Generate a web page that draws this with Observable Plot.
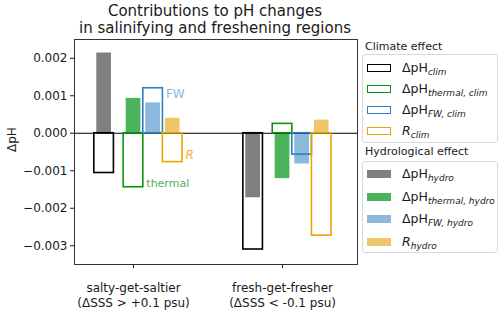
<!DOCTYPE html>
<html><head><meta charset="utf-8">
<script src="https://cdn.jsdelivr.net/npm/d3@7"></script>
<script src="https://cdn.jsdelivr.net/npm/@observablehq/plot@0.6"></script>
<style>
body{margin:0;background:#fff;font-family:"DejaVu Sans",sans-serif;color:#1a1a1a;}
#wrap{position:relative;width:500px;height:315px;overflow:hidden;background:#fff;}
#wrap svg{position:absolute;left:0;top:0;}
.title{position:absolute;left:65px;width:300px;top:3px;text-align:center;font-size:15px;line-height:17px;white-space:nowrap;}
.lg-title{position:absolute;font-size:11px;line-height:13px;white-space:nowrap;}
.lg-box{position:absolute;border:1px solid #d9d9d9;border-radius:3px;background:#fff;box-sizing:border-box;}
.lg-row{position:absolute;left:0;height:0;}
.sw{position:absolute;left:4px;width:24px;height:8px;top:-4px;box-sizing:border-box;}
.lt{position:absolute;left:39px;top:-8px;font-size:12.5px;line-height:15px;white-space:nowrap;}
.lt sub{font-size:9px;font-style:italic;vertical-align:-3px;line-height:0;}
</style></head><body><div id="wrap"></div>
<script>
// ---- data ----
const categories = ["salty-get-saltier\n(ΔSSS > +0.1 psu)", "fresh-get-fresher\n(ΔSSS < -0.1 psu)"];
const components = ["total", "thermal", "FW", "R"];
// climate effect (open bars)
const climTotal   = [-0.00106, -0.00310];
const climThermal = [-0.00144,  0.00025];
const climFW      = [ 0.00120, -0.00057];
const climR       = [-0.00077, -0.00273];
// hydrological effect (filled bars)
const hydroTotal   = [ 0.00214, -0.00172];
const hydroThermal = [ 0.00093, -0.00121];
const hydroFW      = [ 0.00081, -0.00082];
const hydroR       = [ 0.00040,  0.00035];
const yTicks = [-0.003, -0.002, -0.001, 0, 0.001, 0.002];
const climLabels  = ["clim", "thermal, clim", "FW, clim", "clim"];
const hydroLabels = ["hydro", "thermal, hydro", "FW, hydro", "hydro"];
const annotations = [
  {comp: "FW", text: "FW", cat: 0, value: 0.00103},
  {comp: "R", text: "R", cat: 0, value: -0.00058},
  {comp: "thermal", text: "thermal", cat: 0, value: -0.00133}
];

// ---- styles ----
const climValues  = {total: climTotal, thermal: climThermal, FW: climFW, R: climR};
const hydroValues = {total: hydroTotal, thermal: hydroThermal, FW: hydroFW, R: hydroR};
const strokeCol = {total: "#000000", thermal: "#0a960a", FW: "#2f7fc1", R: "#eaa500"};
const fillCol   = {total: "#808080", thermal: "#4bb35a", FW: "#8bb8dc", R: "#efc66a"};
const annoCol   = {FW: "#8bb8dc", R: "#efb32a", thermal: "#4bb35a"};
const slotOffset = {total: -1.5, thermal: 0, FW: 1, R: 2};
const slotW = 0.1315;

const marks = [];
const rows = (vals) => vals.map((v, i) => ({cat: i, value: v}));
// filled (hydro) bars first
for (const c of components) {
  const o = slotOffset[c] * slotW, hw = 0.75 * slotW / 2;
  marks.push(Plot.rect(rows(hydroValues[c]), {
    x1: d => d.cat + o - hw, x2: d => d.cat + o + hw, y1: 0, y2: "value",
    fill: fillCol[c]
  }));
}
marks.push(Plot.ruleY([0], {stroke: "#000", strokeWidth: 1}));
for (const c of components) {
  const o = slotOffset[c] * slotW, hw = slotW / 2;
  marks.push(Plot.rect(rows(climValues[c]), {
    x1: d => d.cat + o - hw, x2: d => d.cat + o + hw, y1: 0, y2: "value",
    fill: "none", stroke: strokeCol[c], strokeWidth: 1.6
  }));
}
for (const a of annotations) {
  marks.push(Plot.text([a], {
    x: d => d.cat + (slotOffset[d.comp] + 0.5) * slotW, y: "value", text: "text",
    textAnchor: "start", dx: 3, fill: annoCol[a.comp],
    fontSize: a.text === "thermal" ? 11 : 12, fontStyle: a.text === "R" ? "italic" : "normal"
  }));
}
marks.push(Plot.frame({stroke: "#333", strokeWidth: 1}));
marks.push(Plot.axisY({ticks: yTicks, tickFormat: d3.format(".3f"), tickSize: 4, tickPadding: 3, fontSize: 12, label: null}));
marks.push(Plot.axisX({ticks: [0, 1], tickFormat: i => categories[i], tickSize: 4, tickPadding: 14, fontSize: 12, lineHeight: 1.17, label: null}));
marks.push(Plot.text(["ΔpH"], {frameAnchor: "left", dx: -62, rotate: -90, fontSize: 12, text: d => d}));

const chart = Plot.plot({
  width: 500, height: 315,
  marginLeft: 74, marginRight: 143, marginTop: 39, marginBottom: 51,
  x: {type: "linear", domain: [-0.396, 1.503]},
  y: {domain: [-0.0035, 0.0025]},
  style: {fontFamily: "DejaVu Sans", fontSize: "12px", color: "#1a1a1a", background: "transparent", overflow: "visible"},
  marks
});
const wrap = document.getElementById("wrap");
wrap.appendChild(chart);

// title
const t = document.createElement("div");
t.className = "title";
t.innerHTML = "Contributions to pH changes<br>in salinifying and freshening regions";
wrap.appendChild(t);

// legends
function legend(title, titleTop, boxTop, boxH, rowYs, labels, open) {
  const tt = document.createElement("div");
  tt.className = "lg-title"; tt.style.left = "365px"; tt.style.top = titleTop + "px";
  tt.textContent = title; wrap.appendChild(tt);
  const box = document.createElement("div");
  box.className = "lg-box";
  Object.assign(box.style, {left: "362px", top: boxTop + "px", width: "136px", height: boxH + "px"});
  components.forEach((c, i) => {
    const r = document.createElement("div");
    r.className = "lg-row"; r.style.top = (rowYs[i] - boxTop) + "px";
    const sw = document.createElement("div");
    sw.className = "sw";
    if (open) sw.style.border = "1.6px solid " + strokeCol[c]; else sw.style.background = fillCol[c];
    const lt = document.createElement("div");
    lt.className = "lt";
    lt.innerHTML = (c === "R" ? "<i>R</i>" : "ΔpH") + "<sub>" + labels[i] + "</sub>";
    r.appendChild(sw); r.appendChild(lt); box.appendChild(r);
  });
  wrap.appendChild(box);
}
legend("Climate effect", 40, 54, 89, [67, 88, 109, 130], climLabels, true);
legend("Hydrological effect", 145, 161, 92, [173, 195.5, 218, 240.5], hydroLabels, false);
</script></body></html>
